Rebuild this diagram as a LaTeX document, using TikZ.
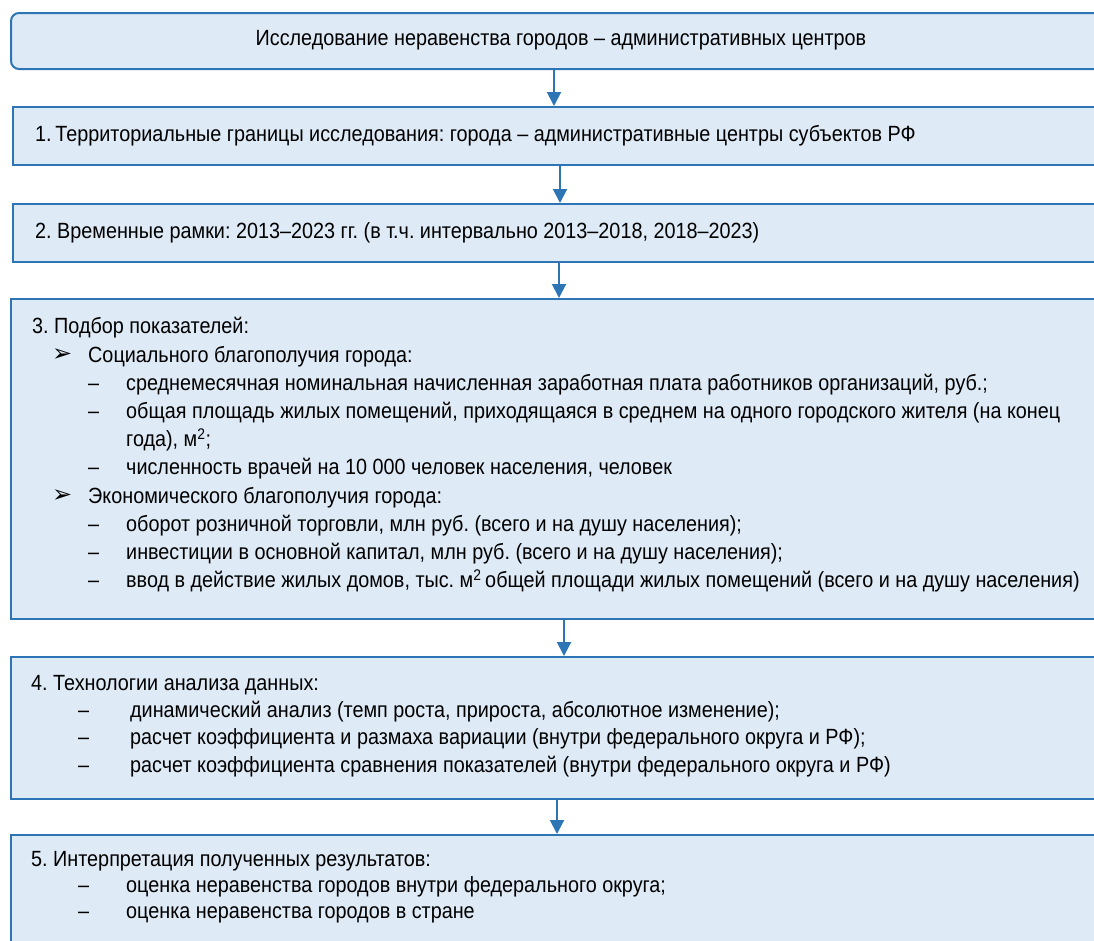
\documentclass[tikz,border=0pt]{standalone}
\usepackage{fontspec}
\setmainfont{Liberation Sans}[FakeStretch=0.9]
\newfontfamily\symfont{DejaVu Sans}
\usetikzlibrary{arrows.meta}
\definecolor{boxfill}{HTML}{DEEAF6}
\definecolor{boxline}{HTML}{2E75B6}
\frenchspacing
\newcommand\bulitem{\makebox[36pt][l]{\raisebox{0.5pt}{\symfont\fontsize{24}{24}\selectfont ➢}}}
\tikzset{
 box/.style={draw=boxline, line width=2pt, fill=boxfill, minimum width=1102pt, anchor=north west, inner sep=0pt},
 txt/.style={inner sep=0pt, align=left, font=\fontsize{22}{28}\selectfont},
 arr/.style={draw=boxline, line width=2pt, -{Triangle[width=14pt,length=14pt]}}
}
\begin{document}
\begin{tikzpicture}[x=1pt,y=-1pt]
\useasboundingbox (0,0) rectangle (1094,940);
\clip (0,0) rectangle (1094,940);
% boxes
\node[box, rounded corners=8pt, minimum height=56pt] (b0) at (10,12) {};
\node[box, minimum height=58pt] (b1) at (12,106) {};
\node[box, minimum height=58pt] (b2) at (12,203) {};
\node[box, minimum height=320pt] (b3) at (10,298) {};
\node[box, minimum height=142pt] (b4) at (10,656) {};
\node[box, minimum height=150pt] (b5) at (10,834) {};
% texts
\node[txt] (t0) at (561,40) {Исследование неравенства городов – административных центров};
\node[txt, anchor=west] (t1) at ([xshift=23pt]b1.west) {1.\,Территориальные границы исследования: города – административные центры субъектов РФ};
\node[txt, anchor=west] (t2) at ([xshift=23pt]b2.west) {2. Временные рамки: 2013–2023 гг. (в т.ч. интервально 2013–2018, 2018–2023)};
\node[txt, anchor=north west, font=\fontsize{22}{28.2}\selectfont] (t3) at ([shift={(22pt,-16pt)}]b3.north west) {\strut3. Подбор показателей:\\
\hspace*{20pt}\bulitem Социального благополучия города:\\
\hspace*{56pt}\makebox[38pt][l]{–}среднемесячная номинальная начисленная заработная плата работников организаций, руб.;\\
\hspace*{56pt}\makebox[38pt][l]{–}общая площадь жилых помещений, приходящаяся в среднем на одного городского жителя (на конец\\
\hspace*{94pt}года), м\textsuperscript{2};\\
\hspace*{56pt}\makebox[38pt][l]{–}численность врачей на 10 000 человек населения, человек\\
\hspace*{20pt}\bulitem Экономического благополучия города:\\
\hspace*{56pt}\makebox[38pt][l]{–}оборот розничной торговли, млн руб. (всего и на душу населения);\\
\hspace*{56pt}\makebox[38pt][l]{–}инвестиции в основной капитал, млн руб. (всего и на душу населения);\\
\hspace*{56pt}\makebox[38pt][l]{–}ввод в действие жилых домов, тыс. м\textsuperscript{2}\,общей площади жилых помещений (всего и на душу населения)};
\node[txt, anchor=north west, font=\fontsize{22}{27.3}\selectfont] (t4) at ([shift={(21pt,-15pt)}]b4.north west) {\strut4. Технологии анализа данных:\\
\hspace*{47pt}\makebox[52pt][l]{–}динамический анализ (темп роста, прироста, абсолютное изменение);\\
\hspace*{47pt}\makebox[52pt][l]{–}расчет коэффициента и размаха вариации (внутри федерального округа и РФ);\\
\hspace*{47pt}\makebox[52pt][l]{–}расчет коэффициента сравнения показателей (внутри федерального округа и РФ)};
\node[txt, anchor=north west, font=\fontsize{22}{26}\selectfont] (t5) at ([shift={(21pt,-14pt)}]b5.north west) {\strut5. Интерпретация полученных результатов:\\
\hspace*{47pt}\makebox[48pt][l]{–}оценка неравенства городов внутри федерального округа;\\
\hspace*{47pt}\makebox[48pt][l]{–}оценка неравенства городов в стране};
% arrows
\coordinate (x0) at (554,0);
\coordinate (x1) at (560,0);
\coordinate (x2) at (559,0);
\coordinate (x3) at (564,0);
\coordinate (x4) at (557,0);
\draw[arr] (b0.south -| x0) -- (b1.north -| x0);
\draw[arr] (b1.south -| x1) -- (b2.north -| x1);
\draw[arr] (b2.south -| x2) -- (b3.north -| x2);
\draw[arr] (b3.south -| x3) -- (b4.north -| x3);
\draw[arr] (b4.south -| x4) -- (b5.north -| x4);
\end{tikzpicture}
\end{document}
